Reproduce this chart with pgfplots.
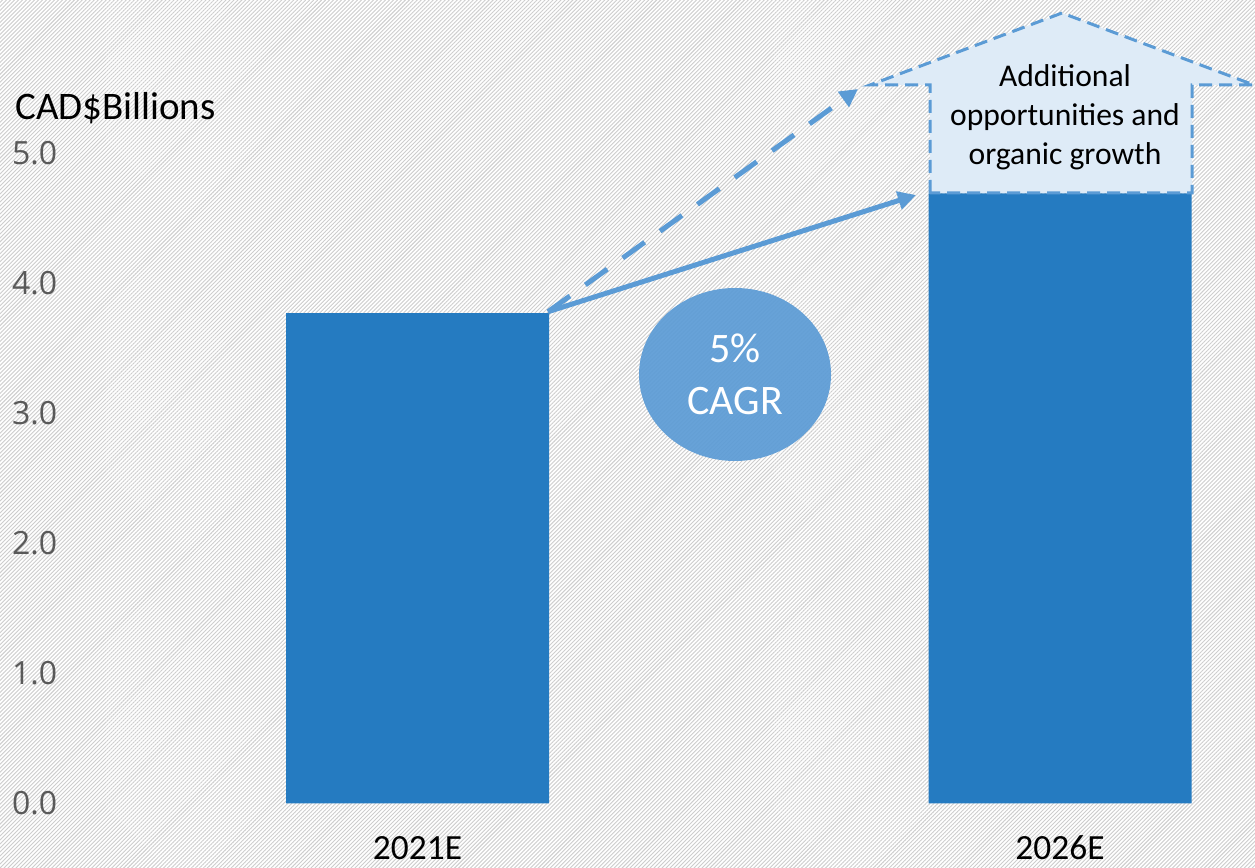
\documentclass[border=0pt]{standalone}
\usepackage{pgfplots}
\pgfplotsset{compat=1.18}
\usepackage{fontspec}
\setmainfont{Carlito}
\newfontfamily\osans{Open Sans}
\usetikzlibrary{patterns.meta,arrows.meta}
\definecolor{barblue}{RGB}{37,123,193}
\definecolor{lightblue}{RGB}{91,155,213}
\definecolor{boxfill}{RGB}{222,235,247}
\definecolor{tickgray}{RGB}{89,89,89}
\definecolor{hatch}{RGB}{205,205,205}
\begin{document}
\begin{tikzpicture}
\fill[white] (0,0) rectangle (627.5pt,434pt);
\fill[pattern={Lines[angle=45,distance=1.41pt,line width=0.45pt]},pattern color=hatch] (0,0) rectangle (627.5pt,434pt);
\begin{axis}[
  at={(0pt,32.25pt)}, anchor=south west,
  scale only axis, width=627.5pt, height=401.75pt,
  xmin=-0.64981, xmax=1.30350, ymin=0, ymax=6.1760,
  axis line style={draw=none}, tick style={draw=none},
  ybar, bar width=131.5pt,
  xtick={0,1}, xticklabels={2021E,2026E},
  xticklabel style={anchor=base, inner sep=0pt, yshift=-23.6pt, font=\fontsize{17.7}{20}\selectfont, text=black},
  ytick={0,1,2,3,4,5}, yticklabels={0.0,1.0,2.0,3.0,4.0,5.0},
  yticklabel style={anchor=west, xshift=2.5pt, font=\osans\fontsize{16}{19}\selectfont, text=tickgray},
  clip=false,
]
\addplot[fill=barblue, draw=none] coordinates {(0,3.77) (1,4.69)};

% additional opportunities box
\draw[fill=boxfill, draw=lightblue, line width=1.5pt, dash pattern=on 6.5pt off 3.5pt]
  (axis cs:0.79767,4.6926) -- (axis cs:0.79767,5.5227) -- (axis cs:0.70428,5.5227)
  -- (axis cs:1.00311,6.0761) -- (axis cs:1.30195,5.5227) -- (axis cs:1.20545,5.5227)
  -- (axis cs:1.20545,4.6926) -- cycle;
\node[anchor=base, inner sep=0, font=\fontsize{15.8}{19}\selectfont] at (axis cs:1.0078,5.5073) {Additional};
\node[anchor=base, inner sep=0, font=\fontsize{15.8}{19}\selectfont] at (axis cs:1.0078,5.2075) {opportunities and};
\node[anchor=base, inner sep=0, font=\fontsize{15.8}{19}\selectfont] at (axis cs:1.0078,4.9116) {organic growth};

% arrows
\draw[lightblue, line width=2.5pt, dash pattern=on 13.5pt off 9.5pt, -{Triangle[length=9pt,width=9pt]}]
  (axis cs:0.2031,3.78) -- (axis cs:0.6856,5.492);
\draw[lightblue, line width=2.5pt, -{Triangle[length=9pt,width=9pt]}]
  (axis cs:0.2031,3.78) -- (axis cs:0.7759,4.677);

% CAGR ellipse
\fill[lightblue, opacity=0.92] (axis cs:0.4942,3.2975) ellipse [x radius=48pt, y radius=43.25pt];
\node[anchor=base, inner sep=0, text=white, font=\fontsize{21}{26}\selectfont] at (axis cs:0.4942,3.3859) {5\%};
\node[anchor=base, inner sep=0, text=white, font=\fontsize{21}{26}\selectfont] at (axis cs:0.4942,2.9862) {CAGR};

% unit label
\node[anchor=base west, inner sep=0, font=\fontsize{19.5}{23}\selectfont] at (axis cs:-0.6265,5.2537) {CAD\$Billions};
\end{axis}
\pgfresetboundingbox
\path[use as bounding box] (0,0) rectangle (627.5pt,434pt);
\end{tikzpicture}
\end{document}
